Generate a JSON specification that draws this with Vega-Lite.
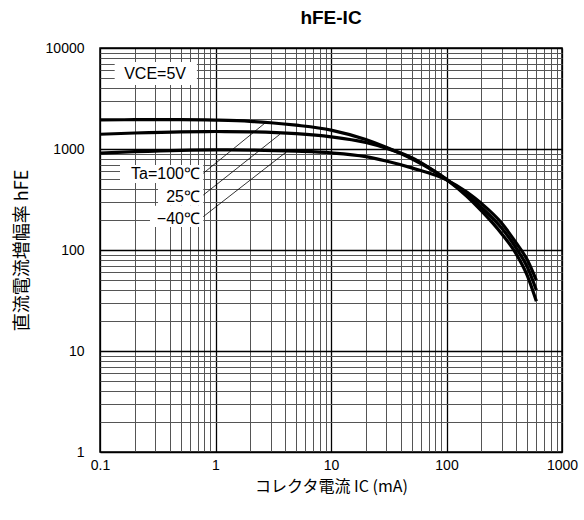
{
  "$schema": "https://vega.github.io/schema/vega-lite/v6.json",
  "autosize": "none",
  "width": 462,
  "height": 404,
  "padding": {"left": 100, "top": 48, "right": 22, "bottom": 68},
  "background": "white",
  "config": {
    "view": {"stroke": "black", "strokeWidth": 1.5},
    "font": "Liberation Sans",
    "axis": {"labelFont": "Liberation Sans", "titleFont": "Noto Sans CJK JP"}
  },
  "title": {"text": "hFE-IC", "fontSize": 19, "fontWeight": "bold", "font": "Liberation Sans", "color": "black", "offset": 13, "anchor": "middle"},
  "datasets": {
    "curves": [
      {"ta": "100", "ic": 0.1, "hfe": 1940}, {"ta": "100", "ic": 0.2, "hfe": 1950}, {"ta": "100", "ic": 0.5, "hfe": 1950},
      {"ta": "100", "ic": 1, "hfe": 1930}, {"ta": "100", "ic": 2, "hfe": 1880}, {"ta": "100", "ic": 3, "hfe": 1820},
      {"ta": "100", "ic": 5, "hfe": 1720}, {"ta": "100", "ic": 10, "hfe": 1540}, {"ta": "100", "ic": 20, "hfe": 1240},
      {"ta": "100", "ic": 30, "hfe": 1040}, {"ta": "100", "ic": 50, "hfe": 800}, {"ta": "100", "ic": 100, "hfe": 500},
      {"ta": "100", "ic": 150, "hfe": 340}, {"ta": "100", "ic": 200, "hfe": 245}, {"ta": "100", "ic": 300, "hfe": 145},
      {"ta": "100", "ic": 400, "hfe": 92}, {"ta": "100", "ic": 500, "hfe": 56}, {"ta": "100", "ic": 600, "hfe": 31},
      {"ta": "25", "ic": 0.1, "hfe": 1400}, {"ta": "25", "ic": 0.2, "hfe": 1440}, {"ta": "25", "ic": 0.5, "hfe": 1480},
      {"ta": "25", "ic": 1, "hfe": 1490}, {"ta": "25", "ic": 2, "hfe": 1480}, {"ta": "25", "ic": 5, "hfe": 1420},
      {"ta": "25", "ic": 10, "hfe": 1320}, {"ta": "25", "ic": 20, "hfe": 1160}, {"ta": "25", "ic": 30, "hfe": 1020},
      {"ta": "25", "ic": 50, "hfe": 820}, {"ta": "25", "ic": 100, "hfe": 500}, {"ta": "25", "ic": 150, "hfe": 355},
      {"ta": "25", "ic": 200, "hfe": 265}, {"ta": "25", "ic": 300, "hfe": 165}, {"ta": "25", "ic": 400, "hfe": 105},
      {"ta": "25", "ic": 500, "hfe": 68}, {"ta": "25", "ic": 600, "hfe": 40},
      {"ta": "-40", "ic": 0.1, "hfe": 910}, {"ta": "-40", "ic": 0.2, "hfe": 940}, {"ta": "-40", "ic": 0.5, "hfe": 970},
      {"ta": "-40", "ic": 1, "hfe": 980}, {"ta": "-40", "ic": 2, "hfe": 975}, {"ta": "-40", "ic": 5, "hfe": 950},
      {"ta": "-40", "ic": 10, "hfe": 915}, {"ta": "-40", "ic": 20, "hfe": 840}, {"ta": "-40", "ic": 30, "hfe": 760},
      {"ta": "-40", "ic": 50, "hfe": 650}, {"ta": "-40", "ic": 100, "hfe": 495}, {"ta": "-40", "ic": 150, "hfe": 375},
      {"ta": "-40", "ic": 200, "hfe": 290}, {"ta": "-40", "ic": 300, "hfe": 185}, {"ta": "-40", "ic": 400, "hfe": 118},
      {"ta": "-40", "ic": 500, "hfe": 80}, {"ta": "-40", "ic": 600, "hfe": 50}
    ],
    "labels": [
      {"text": "VCE=5V", "x": 0.3, "y": 5530, "align": "center", "bx1": 0.134, "bx2": 0.69, "by1": 4303, "by2": 7264},
      {"text": "Ta=100℃", "x": 0.734, "y": 560, "align": "right", "bx1": 0.149, "bx2": 0.784, "by1": 461, "by2": 695},
      {"text": "25℃", "x": 0.734, "y": 335, "align": "right", "bx1": 0.318, "bx2": 0.784, "by1": 275, "by2": 461},
      {"text": "−40℃", "x": 0.734, "y": 205, "align": "right", "bx1": 0.271, "bx2": 0.784, "by1": 169, "by2": 275}
    ],
    "leaders": [
      {"x1": 0.784, "y1": 575, "x2": 2.77, "y2": 1862},
      {"x1": 0.784, "y1": 350, "x2": 3.61, "y2": 1399},
      {"x1": 0.784, "y1": 214, "x2": 4.13, "y2": 940}
    ]
  },
  "layer": [
    {
      "data": {"name": "curves"},
      "mark": {"type": "line", "color": "black", "strokeWidth": 3.2, "interpolate": "monotone", "clip": true},
      "encoding": {
        "x": {
          "field": "ic", "type": "quantitative",
          "scale": {"type": "log", "domain": [0.1, 1000], "nice": false},
          "axis": {
            "values": [0.1,0.2,0.3,0.4,0.5,0.6,0.7,0.8,0.9,1,2,3,4,5,6,7,8,9,10,20,30,40,50,60,70,80,90,100,200,300,400,500,600,700,800,900,1000],
            "grid": true,
            "gridColor": {"condition": {"test": "abs(log(datum.value)/LN10 - round(log(datum.value)/LN10)) < 0.000001", "value": "black"}, "value": "#555555"},
            "gridWidth": {"condition": {"test": "abs(log(datum.value)/LN10 - round(log(datum.value)/LN10)) < 0.000001", "value": 1.3}, "value": 1},
            "gridOpacity": 1,
            "ticks": false,
            "domain": false,
            "labelExpr": "abs(log(datum.value)/LN10 - round(log(datum.value)/LN10)) < 0.000001 ? format(datum.value, '~g') : ''",
            "labelOverlap": false,
            "labelFlush": false,
            "labelFontSize": 14,
            "labelColor": "black",
            "labelPadding": 6,
            "title": "コレクタ電流 IC (mA)",
            "titleFontSize": 16,
            "titleFontWeight": "normal",
            "titleColor": "black",
            "titleX": 231,
            "titleY": 34,
            "titleBaseline": "middle",
            "titleAlign": "center"
          }
        },
        "y": {
          "field": "hfe", "type": "quantitative",
          "scale": {"type": "log", "domain": [1, 10000], "nice": false},
          "axis": {
            "values": [1,2,3,4,5,6,7,8,9,10,20,30,40,50,60,70,80,90,100,200,300,400,500,600,700,800,900,1000,2000,3000,4000,5000,6000,7000,8000,9000,10000],
            "grid": true,
            "gridColor": {"condition": {"test": "abs(log(datum.value)/LN10 - round(log(datum.value)/LN10)) < 0.000001", "value": "black"}, "value": "#555555"},
            "gridWidth": {"condition": {"test": "abs(log(datum.value)/LN10 - round(log(datum.value)/LN10)) < 0.000001", "value": 1.3}, "value": 1},
            "gridOpacity": 1,
            "ticks": false,
            "domain": false,
            "labelExpr": "abs(log(datum.value)/LN10 - round(log(datum.value)/LN10)) < 0.000001 ? format(datum.value, '~g') : ''",
            "labelOverlap": false,
            "labelFlush": false,
            "labelFontSize": 14,
            "labelColor": "black",
            "labelPadding": 16,
            "title": "直流電流増幅率 hFE",
            "titleFontSize": 18,
            "titleFontWeight": "normal",
            "titleColor": "black",
            "titleAngle": 270,
            "titleX": -78,
            "titleY": 202,
            "titleBaseline": "middle",
            "titleAlign": "center"
          }
        },
        "detail": {"field": "ta", "type": "nominal"}
      }
    },
    {
      "data": {"name": "labels"},
      "mark": {"type": "rect", "color": "white", "opacity": 1},
      "encoding": {
        "x": {"field": "bx1", "type": "quantitative"},
        "x2": {"field": "bx2"},
        "y": {"field": "by1", "type": "quantitative"},
        "y2": {"field": "by2"}
      }
    },
    {
      "data": {"name": "leaders"},
      "mark": {"type": "rule", "color": "black", "strokeWidth": 0.8},
      "encoding": {
        "x": {"field": "x1", "type": "quantitative"},
        "x2": {"field": "x2"},
        "y": {"field": "y1", "type": "quantitative"},
        "y2": {"field": "y2"}
      }
    },
    {
      "data": {"name": "labels"},
      "transform": [{"filter": "datum.align == 'center'"}],
      "mark": {"type": "text", "fontSize": 16, "color": "black", "baseline": "middle", "align": "center", "font": "Liberation Sans"},
      "encoding": {
        "x": {"field": "x", "type": "quantitative"},
        "y": {"field": "y", "type": "quantitative"},
        "text": {"field": "text"}
      }
    },
    {
      "data": {"name": "labels"},
      "transform": [{"filter": "datum.align == 'right'"}],
      "mark": {"type": "text", "fontSize": 16, "color": "black", "baseline": "middle", "align": "right", "font": "Liberation Sans"},
      "encoding": {
        "x": {"field": "x", "type": "quantitative"},
        "y": {"field": "y", "type": "quantitative"},
        "text": {"field": "text"}
      }
    }
  ]
}
